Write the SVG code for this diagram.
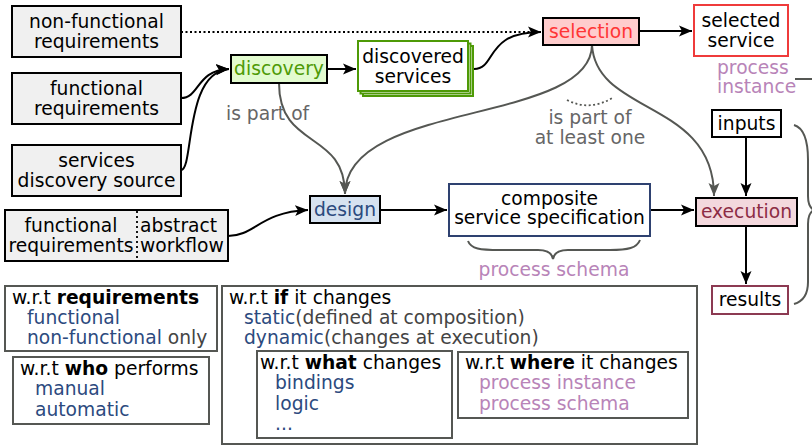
<svg xmlns="http://www.w3.org/2000/svg" width="812" height="446" viewBox="0 0 812 446">
  <style>
    text { font-family: "DejaVu Sans", "Noto Sans", sans-serif; font-size: 18.7px; fill: #000; }
    .c { text-anchor: middle; }
    .b { font-weight: bold; }
    .box { stroke: #000; stroke-width: 2; }
    .grey { fill: #f0f0f0; }
    .panel { fill: #fff; stroke: #555753; stroke-width: 2; }
    .blue { fill: #2c4a7e; }
    .purple { fill: #b884b8; }
    .lbl { fill: #666; }
    .dim { fill: #444; }
    .edge { fill: none; stroke: #000; stroke-width: 2; }
    .gedge { fill: none; stroke: #555753; stroke-width: 2; }
  </style>
  <defs>
    <marker id="arr" viewBox="0 -6 14 12" refX="13" refY="0" markerWidth="14" markerHeight="12" markerUnits="userSpaceOnUse" orient="auto">
      <path d="M0,-5.5 L13,0 L0,5.5 L3,0 z" fill="#000"/>
    </marker>
    <marker id="garr" viewBox="0 -6 14 12" refX="13" refY="0" markerWidth="14" markerHeight="12" markerUnits="userSpaceOnUse" orient="auto">
      <path d="M0,-5.5 L13,0 L0,5.5 L3,0 z" fill="#555753"/>
    </marker>
  </defs>

  <!-- connectors -->
  <g id="connectors">
    <path class="edge" d="M181,32 L533,32" stroke-dasharray="2,2.5" stroke-width="1.8"/>
    <path class="edge" d="M181,98 C200,98 196,70 229,69" marker-end="url(#arr)"/>
    <path class="edge" d="M181,170 C194,170 184,72 229,69" marker-end="url(#arr)"/>
    <path class="edge" d="M327,69 L356,69" marker-end="url(#arr)"/>
    <path class="edge" d="M474,69 C497,69 484,32 541,32" marker-end="url(#arr)"/>
    <path class="edge" d="M639,31 L692,31" marker-end="url(#arr)"/>
    <path class="gedge" d="M279,83 C279,150 345,130 345,194" marker-end="url(#garr)"/>
    <path class="gedge" d="M592,45 C591,125 345,100 345,194" marker-end="url(#garr)"/>
    <path class="gedge" d="M592,45 C596,115 714,100 714,196" marker-end="url(#garr)"/>
    <path d="M567,100 Q590,112 614,97" fill="none" stroke="#555753" stroke-width="1.8" stroke-dasharray="2,2.5"/>
    <path class="edge" d="M746,137 L746,196" marker-end="url(#arr)"/>
    <path class="edge" d="M746,226 L746,284" marker-end="url(#arr)"/>
    <path class="edge" d="M380,210 L447,210" marker-end="url(#arr)"/>
    <path class="edge" d="M650,210 L694,210" marker-end="url(#arr)"/>
    <path class="edge" d="M228,236 C255,236 260,212 308,210" marker-end="url(#arr)"/>
    <!-- braces -->
    <path class="gedge" d="M468,241 C471,249 480,250 500,250 L538,250 C548,250 552,253 553,259 C554,253 558,250 568,250 L610,250 C628,250 637,248 640,240"/>
    <path class="gedge" d="M794,125 C804,128 808,140 808,160 L808,196 C808,204 810,208 814,210 C810,212 808,216 808,224 L808,282 C808,296 801,302 794,304"/>
    <path class="gedge" d="M795,79 L812,79"/>
  </g>

  <g id="nonfunctional-requirements">
    <rect class="box grey" x="12" y="6" width="169" height="51"/>
    <text class="c" x="96.5" y="28">non-functional</text>
    <text class="c" x="96.5" y="48">requirements</text>
  </g>

  <g id="functional-requirements">
    <rect class="box grey" x="12" y="73" width="169" height="51"/>
    <text class="c" x="96.5" y="95">functional</text>
    <text class="c" x="96.5" y="115">requirements</text>
  </g>

  <g id="services-discovery-source">
    <rect class="box grey" x="12" y="145" width="169" height="51"/>
    <text class="c" x="96.5" y="167">services</text>
    <text class="c" x="96.5" y="187">discovery source</text>
  </g>

  <g id="discovery">
    <rect class="box" x="231" y="55" width="96" height="28" fill="#e2fbcf"/>
    <text class="c" x="279" y="75" style="fill:#4e9a06">discovery</text>
  </g>

  <g id="discovered-services">
    <rect x="363" y="46" width="110" height="50" fill="#fff" stroke="#4e9a06" stroke-width="2"/>
    <rect x="360.5" y="43.5" width="110" height="50" fill="#fff" stroke="#4e9a06" stroke-width="2"/>
    <rect x="358" y="41" width="110" height="50" fill="#fff" stroke="#4e9a06" stroke-width="2"/>
    <text class="c" x="413" y="63">discovered</text>
    <text class="c" x="413" y="83">services</text>
  </g>

  <g id="selection">
    <rect class="box" x="543" y="18" width="96" height="27" fill="#ffcccc"/>
    <text class="c" x="591" y="38" style="fill:#ff3535">selection</text>
  </g>

  <g id="selected-service">
    <rect x="694" y="5" width="94" height="51" fill="#fff" stroke="#ef3b3b" stroke-width="2"/>
    <text class="c" x="741" y="27">selected</text>
    <text class="c" x="741" y="47">service</text>
    <text class="purple" x="717" y="74">process</text>
    <text class="purple" x="717" y="93">instance</text>
  </g>

  <g id="inputs">
    <rect class="box" x="712" y="110" width="69" height="27" fill="#fff"/>
    <text class="c" x="746.5" y="130">inputs</text>
  </g>

  <g id="execution">
    <rect class="box" x="696" y="198" width="101" height="28" fill="#f3d8dd"/>
    <text class="c" x="746.5" y="218" style="fill:#8c2c45">execution</text>
  </g>

  <g id="results">
    <rect x="712" y="286" width="76" height="28" fill="#fff" stroke="#8c3a52" stroke-width="2"/>
    <text class="c" x="750" y="306">results</text>
  </g>

  <g id="design">
    <rect class="box" x="310" y="196" width="70" height="27" fill="#d6e2f0"/>
    <text class="c" x="345" y="216" style="fill:#2c4a7e">design</text>
  </g>

  <g id="composite-service-specification">
    <rect x="449" y="184" width="201" height="52" fill="#fff" stroke="#2e4170" stroke-width="2"/>
    <text class="c" x="549.5" y="205">composite</text>
    <text class="c" x="549.5" y="224">service specification</text>
    <text class="c purple" x="554" y="276">process schema</text>
  </g>

  <g id="requirements-workflow">
    <rect class="box grey" x="5" y="210" width="223" height="51"/>
    <line x1="137" y1="211" x2="137" y2="260" stroke="#000" stroke-width="1.8" stroke-dasharray="2,3"/>
    <text class="c" x="71" y="232">functional</text>
    <text class="c" x="71" y="252">requirements</text>
    <text x="140" y="232">abstract</text>
    <text x="140" y="252">workflow</text>
  </g>

  <text class="lbl" x="226" y="120">is part of</text>
  <text class="c lbl" x="590" y="124">is part of</text>
  <text class="c lbl" x="590" y="144">at least one</text>

  <!-- classification panels -->
  <g id="wrt-requirements">
    <rect class="panel" x="5" y="286" width="212" height="65"/>
    <text x="12" y="304">w.r.t <tspan class="b">requirements</tspan></text>
    <text class="blue" x="27" y="324">functional</text>
    <text x="27" y="344"><tspan class="blue">non-functional</tspan><tspan class="dim"> only</tspan></text>
  </g>

  <g id="wrt-who">
    <rect class="panel" x="13" y="357" width="196" height="67"/>
    <text x="20" y="375">w.r.t <tspan class="b">who</tspan> performs</text>
    <text class="blue" x="35" y="395">manual</text>
    <text class="blue" x="35" y="416">automatic</text>
  </g>

  <g id="wrt-if">
    <rect class="panel" x="222" y="286" width="475" height="158"/>
    <text x="229" y="304">w.r.t <tspan class="b">if</tspan> it changes</text>
    <text x="244" y="324"><tspan class="blue">static</tspan><tspan class="dim">(defined at composition)</tspan></text>
    <text x="244" y="344"><tspan class="blue">dynamic</tspan><tspan class="dim">(changes at execution)</tspan></text>
  </g>

  <g id="wrt-what">
    <rect class="panel" x="257" y="351" width="195" height="87"/>
    <text x="260" y="369">w.r.t <tspan class="b">what</tspan> changes</text>
    <text class="blue" x="275" y="389">bindings</text>
    <text class="blue" x="275" y="410">logic</text>
    <text class="blue" x="275" y="430">...</text>
  </g>

  <g id="wrt-where">
    <rect class="panel" x="458" y="352" width="230" height="66"/>
    <text x="465" y="369">w.r.t <tspan class="b">where</tspan> it changes</text>
    <text class="purple" x="479" y="389">process instance</text>
    <text class="purple" x="479" y="410">process schema</text>
  </g>
</svg>
